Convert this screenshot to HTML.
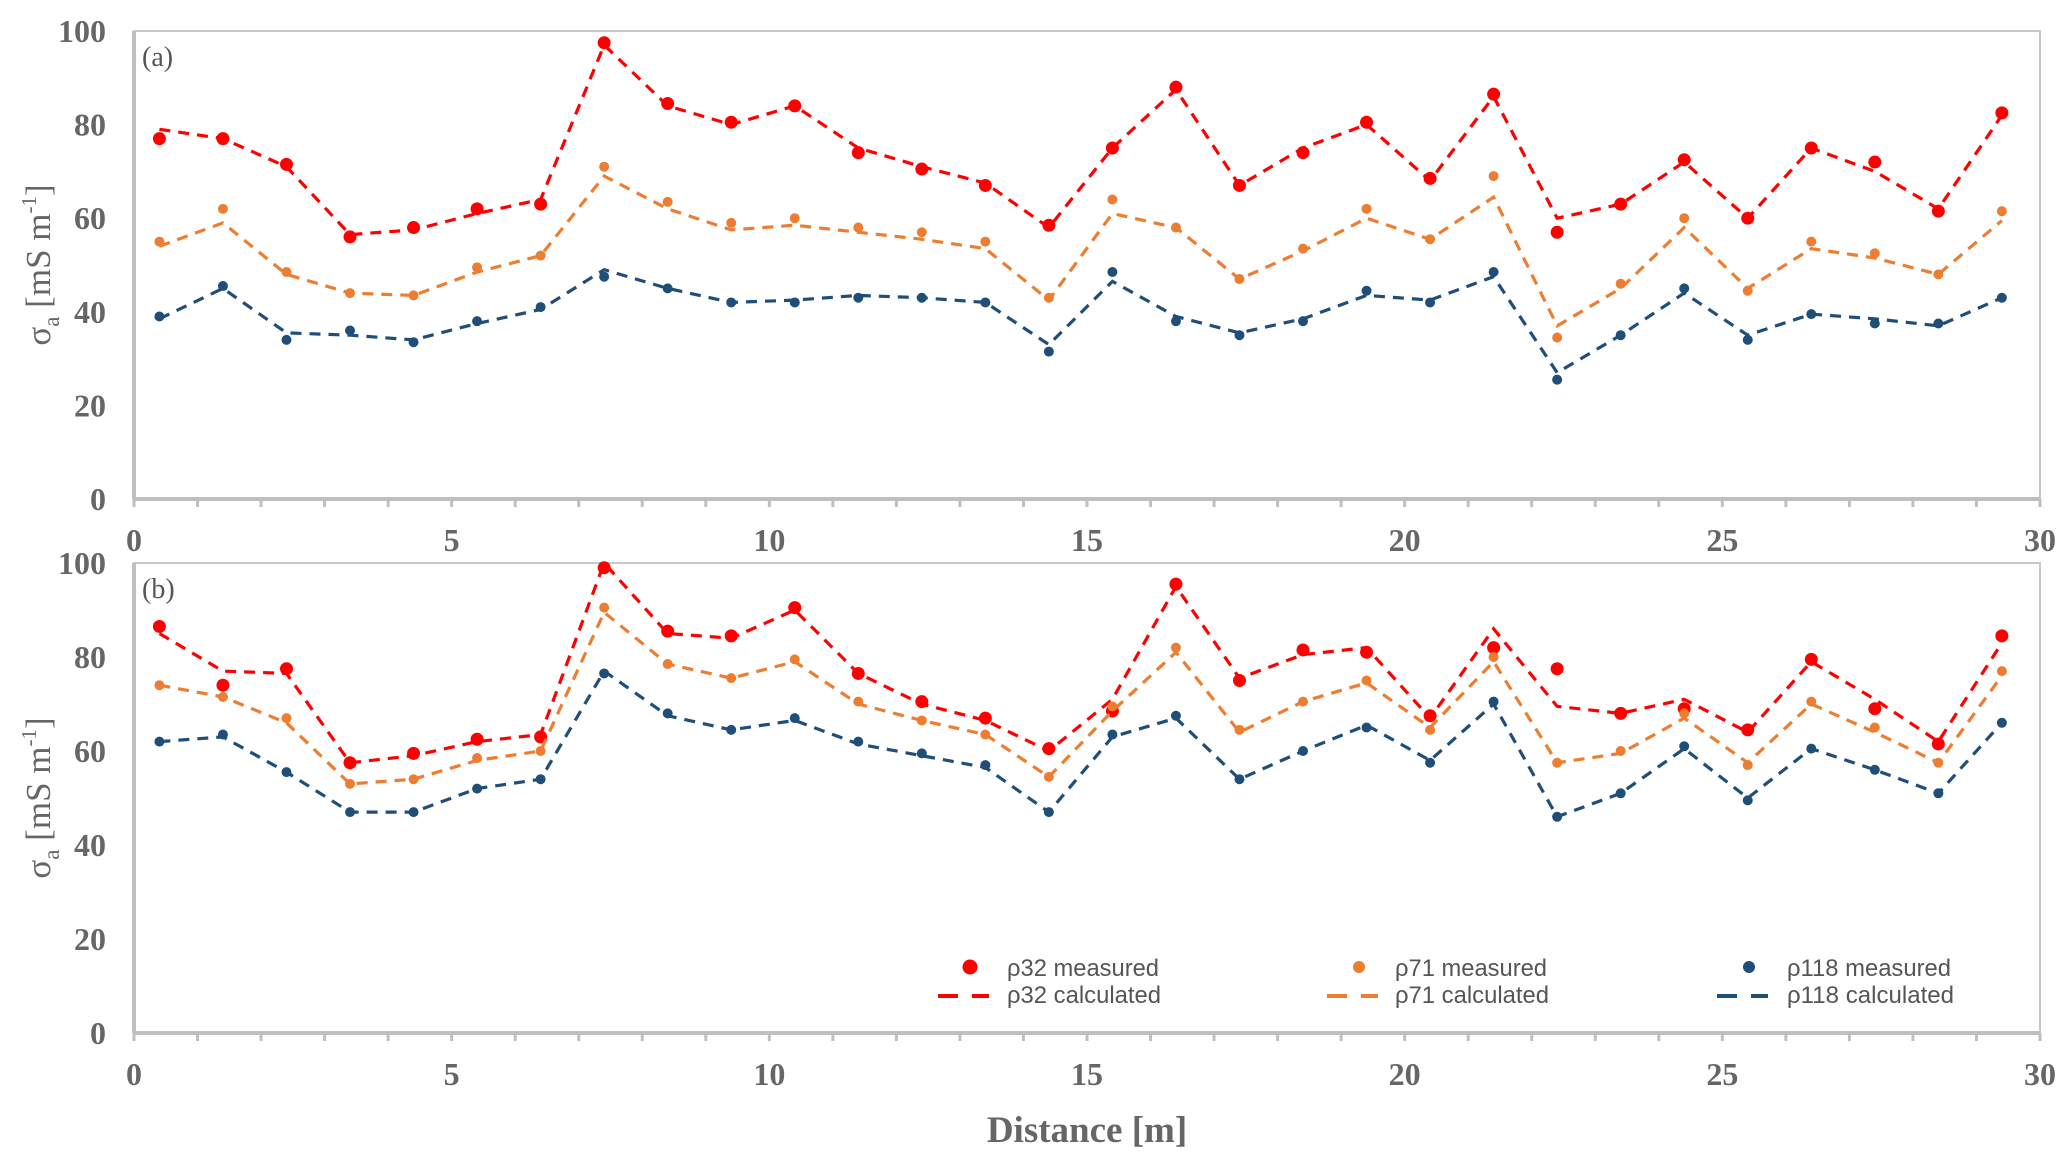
<!DOCTYPE html>
<html><head><meta charset="utf-8"><style>
html,body{margin:0;padding:0;background:#fff;}
svg{display:block;}
</style></head><body>
<svg id="chart" width="2067" height="1166" xmlns="http://www.w3.org/2000/svg"></svg>
<script>
const xs = [0.4,1.4,2.4,3.4,4.4,5.4,6.4,7.4,8.4,9.4,10.4,11.4,12.4,13.4,14.4,15.4,16.4,17.4,18.4,19.4,20.4,21.4,22.4,23.4,24.4,25.4,26.4,27.4,28.4,29.4];
const xTicks = [0,5,10,15,20,25,30];
const yTicks = [0,20,40,60,80,100];
const aRedMeas = [77,77,71.5,56,58,62,63,97.5,84.5,80.5,84,74,70.5,67,58.5,75,88,67,74,80.5,68.5,86.5,57,63,72.5,60,75,72,61.5,82.5];
const aRedCalc = [79,77,71,56.5,57.5,61,64,97,84,80,84,75,71,67.5,58,75,87.5,67,75,80,68,86,60,63,72,60,75,70,62,82];
const aOrgMeas = [55,62,48.5,44,43.5,49.5,52,71,63.5,59,60,58,57,55,43,64,58,47,53.5,62,55.5,69,34.5,46,60,44.5,55,52.5,48,61.5];
const aOrgCalc = [54,59,48,44,43.5,48.5,52,69,62,57.5,58.5,57,55.5,53.5,42.5,61,58,47,53,60,55.5,64.5,37,45,58,45,53.5,51.5,48,59.5];
const aBluMeas = [39,45.5,34,36,33.5,38,41,47.5,45,42,42,43,43,42,31.5,48.5,38,35,38,44.5,42,48.5,25.5,35,45,34,39.5,37.5,37.5,43];
const aBluCalc = [38.5,45,35.5,35,34,37.5,40.5,49,45,42,42.5,43.5,43,42,33,46.5,39,35.5,38.5,43.5,42.5,47.5,27,35,44,35,39.5,38.5,37,43];
const bRedMeas = [86.5,74,77.5,57.5,59.5,62.5,63,99,85.5,84.5,90.5,76.5,70.5,67,60.5,68.5,95.5,75,81.5,81,67.5,82,77.5,68,69,64.5,79.5,69,61.5,84.5];
const bRedCalc = [85,77,76.5,57.5,59,62,63.5,100,85,84,90,76.5,70,66.5,60,71,95,75.5,80.5,82,67,86,69.5,68,71,64,79,71,62,83];
const bOrgMeas = [74,71.5,67,53,54,58.5,60,90.5,78.5,75.5,79.5,70.5,66.5,63.5,54.5,69.5,82,64.5,70.5,75,64.5,80,57.5,60,68,57,70.5,65,57.5,77];
const bOrgCalc = [74,71.5,66,53,54,58,60,89.5,78.5,75.5,79,70,66.5,63.5,54.5,68.5,81,64,70.5,74.5,65,79,57.5,59.5,67,57.5,70,64,57.5,76];
const bBluMeas = [62,63.5,55.5,47,47,52,54,76.5,68,64.5,67,62,59.5,57,47,63.5,67.5,54,60,65,57.5,70.5,46,51,61,49.5,60.5,56,51,66];
const bBluCalc = [62,63,55.5,47,47,52,54,77,67.5,64.5,66.5,61.5,59,56.5,47,63,67,54,60,65.5,58,70,46,51,60.5,50,60.5,56,51,66];

const NS = "http://www.w3.org/2000/svg";
const svg = document.getElementById('chart');
function mk(tag, attrs, parent){ const e=document.createElementNS(NS,tag); for(const k in attrs) e.setAttribute(k,attrs[k]); (parent||svg).appendChild(e); return e; }
const L=134, R=2040;
const xScale = v => L + (R-L)*v/30;
const RED='#ff0000', ORG='#ed7d31', BLU='#1f4e79';
const tickFont = 'font-family:"Liberation Serif",serif;font-weight:bold;font-size:32px;fill:#666;';

function panel(top, bottom, label, series, name){
  const g = mk('g',{});
  
  
  const yScale = v => bottom - (bottom-top)*v/100;
  const frame = mk('rect',{x:L,y:top,width:R-L,height:bottom-top,fill:'none',stroke:'#c8c8c8','stroke-width':2},g);
  
  
  const ya = mk('line',{x1:L,y1:top,x2:L,y2:bottom,stroke:'#bfbfbf','stroke-width':4},g);
  
  
  const xa = mk('line',{x1:L,y1:bottom,x2:R,y2:bottom,stroke:'#bfbfbf','stroke-width':4},g);
  
  
  for(let i=0;i<=30;i++){
    const t = mk('line',{x1:xScale(i),y1:bottom,x2:xScale(i),y2:bottom+8,stroke:'#bfbfbf','stroke-width':3},g);
    
    
  }
  xTicks.forEach(v=>{
    const t = mk('text',{x:xScale(v),y:bottom+52,'text-anchor':'middle',style:tickFont},g);
    t.textContent=v;
    
    
  });
  yTicks.forEach(v=>{
    const t = mk('text',{x:106,y:yScale(v)+11,'text-anchor':'end',style:tickFont},g);
    t.textContent=v;
    
    
  });
  const pl = mk('text',{x:142,y:top+35,style:'font-family:"Liberation Serif",serif;font-size:28px;fill:#555;'},g);
  pl.textContent=label;
  
  
  const yt = mk('text',{transform:`translate(50,${(top+bottom)/2}) rotate(-90)`,'text-anchor':'middle',style:'font-family:"Liberation Serif",serif;font-size:35px;fill:#666;'},g);
  yt.innerHTML='σ<tspan font-size="23" dy="9">a</tspan><tspan dy="-9"> [mS m</tspan><tspan font-size="21" dy="-14">-1</tspan><tspan dy="14">]</tspan>';
  
  
  series.forEach(s=>{
    const pts = s.calc.map((v,i)=>xScale(xs[i])+','+yScale(v)).join(' ');
    const line = mk('polyline',{points:pts,fill:'none',stroke:s.color,'stroke-width':3.2,'stroke-dasharray':'11,8'},g);
    
    
    s.meas.forEach((v,i)=>{
      const c = mk('circle',{cx:xScale(xs[i]),cy:yScale(v),r:s.r,fill:s.color},g);
      
      
    });
  });
}
panel(31, 499, '(a)', [
  {name:'rho32',color:RED,r:6.5,meas:aRedMeas,calc:aRedCalc},
  {name:'rho71',color:ORG,r:5,meas:aOrgMeas,calc:aOrgCalc},
  {name:'rho118',color:BLU,r:5,meas:aBluMeas,calc:aBluCalc}], 'panel-a');
panel(563, 1033, '(b)', [
  {name:'rho32',color:RED,r:6.5,meas:bRedMeas,calc:bRedCalc},
  {name:'rho71',color:ORG,r:5,meas:bOrgMeas,calc:bOrgCalc},
  {name:'rho118',color:BLU,r:5,meas:bBluMeas,calc:bBluCalc}], 'panel-b');

const xt = mk('text',{x:(L+R)/2,y:1142,'text-anchor':'middle',style:'font-family:"Liberation Serif",serif;font-weight:bold;font-size:37px;fill:#666;'});
xt.textContent='Distance [m]';



const leg = [
  {label:'ρ32',color:RED,r:6.5,mx:970,tx:1007,w1:152,w2:154},
  {label:'ρ71',color:ORG,r:5,mx:1359,tx:1395,w1:152,w2:154},
  {label:'ρ118',color:BLU,r:5,mx:1749,tx:1787,w1:164,w2:167}];
leg.forEach(o=>{
  const c = mk('circle',{cx:o.mx,cy:967,r:o.r+1,fill:o.color});
  
  
  const l = mk('line',{x1:o.mx-32,y1:996,x2:o.mx+19,y2:996,stroke:o.color,'stroke-width':4,'stroke-dasharray':'20,14'});
  
  
  const t1 = mk('text',{x:o.tx,y:976,textLength:o.w1,lengthAdjust:'spacingAndGlyphs',style:'font-family:"Liberation Sans",sans-serif;font-size:24px;fill:#555;'});
  t1.textContent=o.label+' measured';
  
  
  const t2 = mk('text',{x:o.tx,y:1003,textLength:o.w2,lengthAdjust:'spacingAndGlyphs',style:'font-family:"Liberation Sans",sans-serif;font-size:24px;fill:#555;'});
  t2.textContent=o.label+' calculated';
  
  
});
</script>
</body></html>
